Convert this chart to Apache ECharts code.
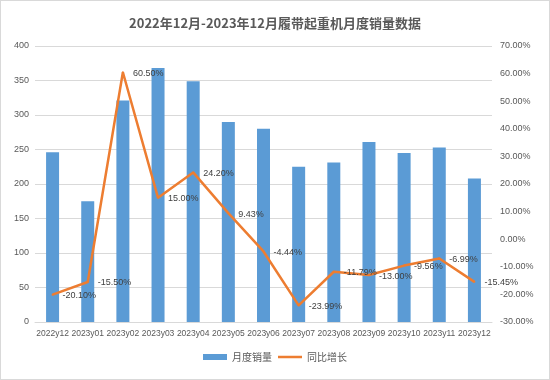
<!DOCTYPE html>
<html><head><meta charset="utf-8">
<script src="https://cdn.jsdelivr.net/npm/echarts@6/dist/echarts.min.js"></script>
<style>html,body{margin:0;padding:0;background:#fff}#c{width:548px;height:378px;border:1px solid #d9d9d9}</style>
</head><body><div id="c"></div>
<script>
var categories = ['2022y12','2023y01','2023y02','2023y03','2023y04','2023y05','2023y06','2023y07','2023y08','2023y09','2023y10','2023y11','2023y12'];
var sales = [246, 175, 321, 368, 349, 290, 280, 225, 231, 261, 245, 253, 208];
var growth = [-20.10, -15.50, 60.50, 15.00, 24.20, 9.43, -4.44, -23.99, -11.79, -13.00, -9.56, -6.99, -15.45];
var leftTicks = {min: 0, max: 400, interval: 50};
var rightTicks = {min: -30, max: 70, interval: 10};

var chart = echarts.init(document.getElementById('c'));
var font = '"Liberation Sans", Arial, sans-serif';
chart.setOption({
  animation: false,
  title: {text: '2022年12月-2023年12月履带起重机月度销量数据', left: 'center', top: 11,
    textStyle: {fontSize: 13, fontWeight: 'bold', color: '#595959', fontFamily: '"Noto Sans CJK SC", sans-serif'}},
  grid: {left: 34, right: 57, top: 45, bottom: 57},
  legend: {bottom: 12, itemWidth: 24, itemHeight: 6, itemGap: 6,
    textStyle: {color: '#595959', fontSize: 10, fontFamily: '"Noto Sans CJK SC", serif'},
    data: [{name: '月度销量', icon: 'rect', itemStyle: {color: '#5B9BD5'}},
           {name: '同比增长', icon: 'path://M0,0 L24,0 L24,2.5 L0,2.5 Z', itemStyle: {color: '#ED7D31', opacity: 1}}]},
  xAxis: {type: 'category', data: categories,
    axisLine: {lineStyle: {color: '#d9d9d9'}}, axisTick: {show: false},
    axisLabel: {interval: 0, color: '#595959', fontSize: 8.5, fontFamily: font, margin: 7}},
  yAxis: [
    {type: 'value', min: leftTicks.min, max: leftTicks.max, interval: leftTicks.interval,
      axisLine: {show: false}, axisTick: {show: false},
      axisLabel: {color: '#595959', fontSize: 9, fontFamily: font, margin: 6},
      splitLine: {lineStyle: {color: '#d9d9d9'}}},
    {type: 'value', min: rightTicks.min, max: rightTicks.max, interval: rightTicks.interval,
      axisLine: {show: false}, axisTick: {show: false}, splitLine: {show: false},
      axisLabel: {color: '#595959', fontSize: 9, fontFamily: font, margin: 8,
        formatter: function (v) { return v.toFixed(2) + '%'; }}}
  ],
  series: [
    {name: '月度销量', type: 'bar', data: sales, barWidth: 13, itemStyle: {color: '#5B9BD5'}},
    {name: '同比增长', type: 'line', yAxisIndex: 1, data: growth, symbol: 'circle', symbolSize: 2, showSymbol: true,
      lineStyle: {color: '#ED7D31', width: 2.5}, itemStyle: {color: '#ED7D31'},
      label: {show: true, position: 'right', distance: 9, offset: [0, 1], color: '#404040', fontSize: 9, fontFamily: font,
        formatter: function (p) { return p.value.toFixed(2) + '%'; }}}
  ]
});
</script></body></html>
